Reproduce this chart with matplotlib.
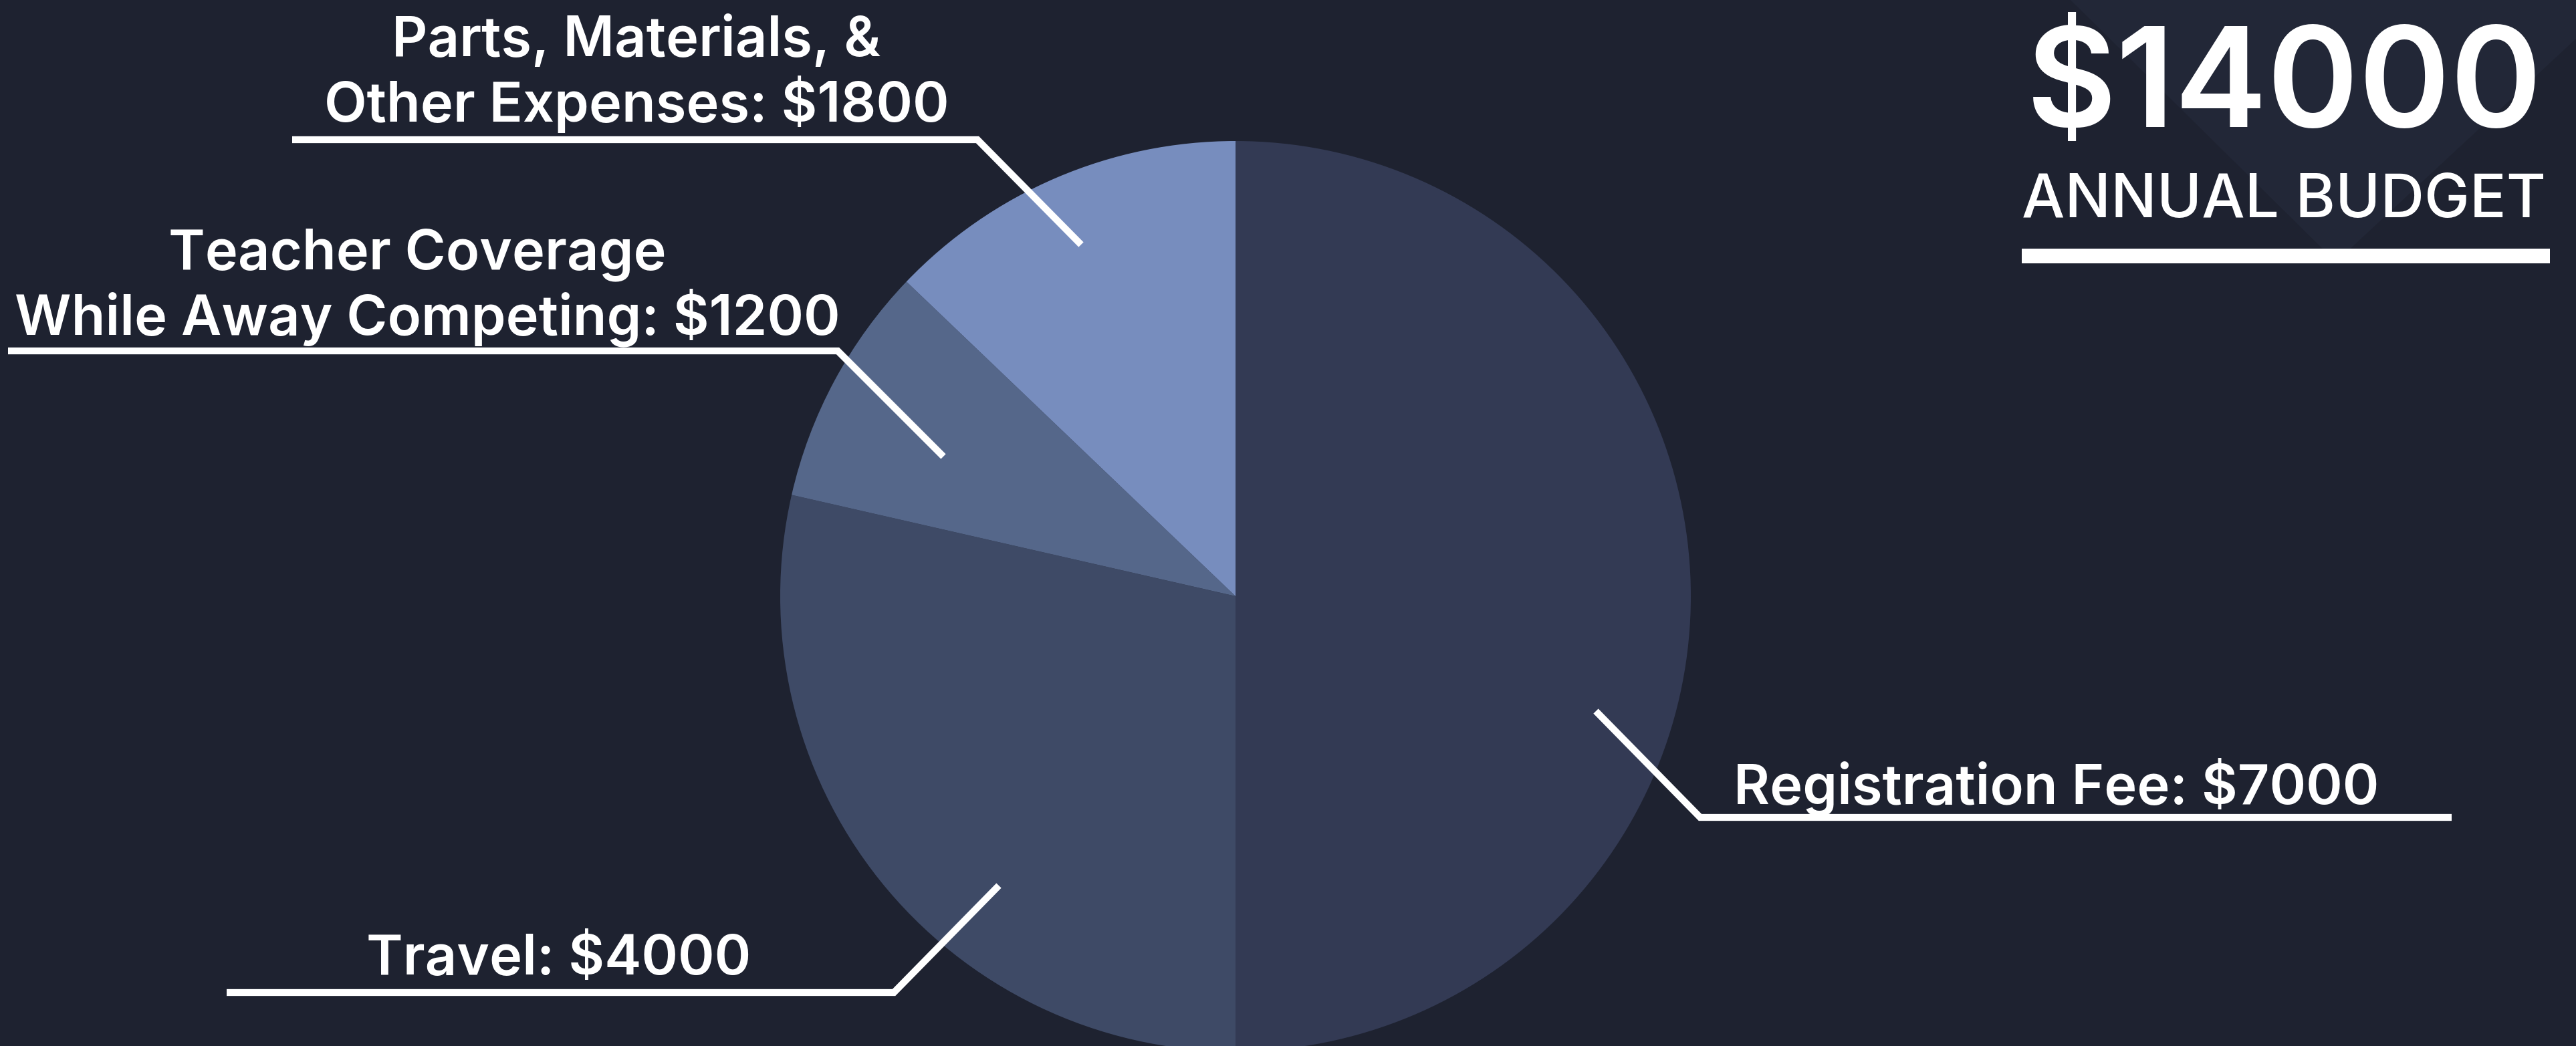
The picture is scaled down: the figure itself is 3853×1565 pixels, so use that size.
import matplotlib
matplotlib.use("Agg")
import matplotlib.pyplot as plt
from matplotlib.patches import Polygon, Rectangle

plt.rcParams['font.family'] = ['Inter', 'DejaVu Sans']

# data
categories = ["Registration Fee", "Travel",
              "Teacher Coverage\nWhile Away Competing",
              "Parts, Materials, &\nOther Expenses"]
values = [7000, 4000, 1200, 1800]
total_label = "$14000"
subtitle = "ANNUAL BUDGET"

colors = ["#333A54", "#3E4A66", "#55678A", "#778DBE"]
bg = "#1E2230"

W, H = 3853, 1565


def Y(y):
    # image pixel row -> axes y (y up)
    return H - y


fig = plt.figure(figsize=(W / 100, H / 100), dpi=100, facecolor=bg)
ax = fig.add_axes([0, 0, 1, 1])
ax.set_facecolor(bg)

# faint triangle behind the title
ax.add_patch(Polygon([(3097, Y(0)), (3494, Y(392)), (3853, Y(58)), (3853, Y(0))],
                     closed=True, facecolor="#222737", edgecolor="none", zorder=0))

ax.pie(values, colors=colors, startangle=90, counterclock=False,
       center=(1848, Y(892)), radius=681,
       wedgeprops=dict(linewidth=0, antialiased=True))

ax.set_xlim(0, W)
ax.set_ylim(0, H)
ax.set_aspect('equal', adjustable='box')
ax.axis('off')

# leader lines (image pixel coords)
leaders = [
    [(2387, 1064), (2543, 1223), (3667, 1223)],
    [(1494, 1325), (1337, 1485), (339, 1485)],
    [(1411, 683), (1253, 525), (12, 525)],
    [(1617, 366), (1462, 209), (437, 209)],
]
for pts in leaders:
    xs = [p[0] for p in pts]
    ys = [Y(p[1]) for p in pts]
    ax.plot(xs, ys, color="white", lw=7.4, solid_joinstyle='miter',
            solid_capstyle='butt', zorder=5)

renderer = fig.canvas.get_renderer()


def fit_text(x, y, s, width, weight=500, ha='center'):
    t = ax.text(x, Y(y), s, color="white", fontsize=50, ha=ha, va='baseline',
                fontweight=weight, zorder=6)
    w = t.get_window_extent(renderer).width
    t.set_fontsize(50 * width / w)
    return t


# label font size fitted on the registration line
labels = [f"{c}: ${v}" for c, v in zip(categories, values)]
probe = ax.text(0, 0, labels[0], fontsize=50, fontweight=600)
label_fs = 50 * 965 / probe.get_window_extent(renderer).width
probe.remove()

# (center x, baseline per line)
label_pos = [
    [(3076, 1202)],
    [(836, 1458)],
    [(624, 402), (639, 500)],
    [(952, 84), (952, 182)],
]
for lab, pos in zip(labels, label_pos):
    for line, (x, y) in zip(lab.split("\n"), pos):
        ax.text(x, Y(y), line, color="white", fontsize=label_fs, ha='center',
                va='baseline', fontweight=600, zorder=6)

# title block
fit_text(3031, 190, total_label, 772, weight=600, ha='left')
fit_text(3024, 325, subtitle, 784, weight=500, ha='left')
ax.add_patch(Rectangle((3024, Y(394)), 790, 22, facecolor="white",
                       edgecolor="none", zorder=6))

fig.savefig("out.png", dpi=100, facecolor=bg)
